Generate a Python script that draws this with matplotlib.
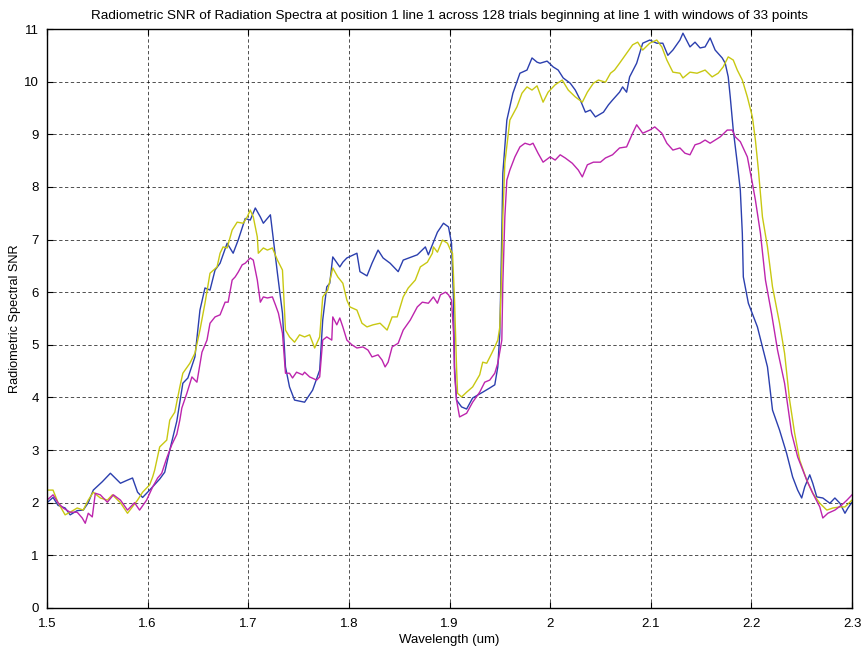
import matplotlib
matplotlib.use("Agg")
import matplotlib.pyplot as plt
import numpy as np

plt.rcParams['font.family'] = ['Liberation Sans', 'DejaVu Sans']

title = "Radiometric SNR of Radiation Spectra at position 1 line 1 across 128 trials beginning at line 1 with windows of 33 points"
xlabel = "Wavelength (um)"
ylabel = "Radiometric Spectral SNR"
xticks = [1.5, 1.6, 1.7, 1.8, 1.9, 2.0, 2.1, 2.2, 2.3]
xticklabels = ["1.5", "1.6", "1.7", "1.8", "1.9", "2", "2.1", "2.2", "2.3"]
yticks = list(range(0, 12))

blue_w = [1.500, 1.506, 1.511, 1.518, 1.523, 1.530, 1.536, 1.541, 1.546, 1.555, 1.563, 1.573, 1.580, 1.585, 1.590,
          1.595, 1.599, 1.602, 1.612, 1.617, 1.622, 1.629, 1.635, 1.640, 1.647, 1.652, 1.657, 1.662, 1.667, 1.672,
          1.679, 1.685, 1.690, 1.697, 1.702, 1.707, 1.712, 1.715, 1.722, 1.725, 1.729, 1.734, 1.737, 1.741, 1.746,
          1.756, 1.764, 1.771, 1.774, 1.778, 1.781, 1.784, 1.791, 1.794, 1.798, 1.808, 1.811, 1.818, 1.823, 1.829,
          1.834, 1.841, 1.849, 1.854, 1.868, 1.876, 1.879, 1.888, 1.894, 1.899, 1.902, 1.904, 1.905, 1.907, 1.912,
          1.917, 1.923, 1.933, 1.940, 1.945, 1.948, 1.950, 1.952, 1.953, 1.957, 1.963, 1.970, 1.977, 1.982, 1.987,
          1.990, 1.997, 2.003, 2.008, 2.013, 2.020, 2.025, 2.030, 2.035, 2.040, 2.045, 2.053, 2.058, 2.062, 2.069,
          2.072, 2.076, 2.079, 2.086, 2.092, 2.099, 2.106, 2.112, 2.117, 2.122, 2.129, 2.132, 2.139, 2.144, 2.149,
          2.154, 2.159, 2.164, 2.171, 2.174, 2.177, 2.179, 2.182, 2.186, 2.189, 2.191, 2.192, 2.197, 2.206, 2.216,
          2.221, 2.228, 2.235, 2.241, 2.246, 2.250, 2.253, 2.258, 2.261, 2.265, 2.271, 2.278, 2.283, 2.288, 2.293,
          2.296, 2.300]
blue_v = [2.00, 2.10, 1.95, 1.90, 1.77, 1.85, 1.86, 2.00, 2.24, 2.40, 2.56, 2.37, 2.43, 2.47, 2.20,
          2.10, 2.18, 2.24, 2.45, 2.58, 3.00, 3.55, 4.27, 4.37, 4.77, 5.66, 6.08, 6.04, 6.42, 6.55,
          6.93, 6.74, 6.99, 7.40, 7.37, 7.60, 7.43, 7.31, 7.47, 6.99, 6.36, 5.60, 4.58, 4.20, 3.95,
          3.91, 4.14, 4.52, 5.47, 6.10, 6.17, 6.67, 6.48, 6.57, 6.65, 6.74, 6.39, 6.31, 6.55, 6.80,
          6.65, 6.55, 6.39, 6.61, 6.71, 6.86, 6.71, 7.14, 7.31, 7.24, 6.93, 5.85, 4.58, 3.95, 3.82,
          3.78, 3.99, 4.10, 4.18, 4.24, 4.58, 5.22, 7.12, 8.26, 9.27, 9.78, 10.16, 10.22, 10.45, 10.37,
          10.35, 10.39, 10.28, 10.22, 10.07, 9.97, 9.84, 9.65, 9.42, 9.46, 9.33, 9.42, 9.56, 9.65, 9.80,
          9.90, 9.80, 10.09, 10.35, 10.73, 10.79, 10.73, 10.73, 10.50, 10.60, 10.79, 10.92, 10.66, 10.75, 10.64,
          10.66, 10.83, 10.60, 10.45, 10.35, 10.09, 9.71, 9.08, 8.45, 7.94, 7.12, 6.29, 5.79, 5.34, 4.58,
          3.76, 3.38, 2.94, 2.49, 2.24, 2.09, 2.30, 2.53, 2.37, 2.11, 2.09, 1.99, 2.09, 1.99, 1.80,
          1.90, 2.01]

yellow_w = [1.500, 1.506, 1.511, 1.518, 1.523, 1.530, 1.536, 1.541, 1.546, 1.553, 1.560, 1.565, 1.573, 1.580, 1.584,
            1.590, 1.595, 1.599, 1.602, 1.605, 1.607, 1.612, 1.619, 1.622, 1.627, 1.632, 1.635, 1.642, 1.647, 1.652,
            1.657, 1.662, 1.669, 1.672, 1.675, 1.679, 1.684, 1.689, 1.695, 1.699, 1.702, 1.705, 1.709, 1.710, 1.715,
            1.719, 1.724, 1.729, 1.734, 1.737, 1.741, 1.746, 1.751, 1.756, 1.761, 1.766, 1.771, 1.774, 1.779, 1.784,
            1.789, 1.794, 1.798, 1.801, 1.808, 1.813, 1.818, 1.824, 1.831, 1.838, 1.843, 1.848, 1.854, 1.859, 1.866,
            1.871, 1.878, 1.883, 1.884, 1.888, 1.893, 1.898, 1.901, 1.903, 1.905, 1.907, 1.908, 1.912, 1.917, 1.923,
            1.930, 1.933, 1.937, 1.942, 1.945, 1.948, 1.950, 1.952, 1.953, 1.955, 1.960, 1.967, 1.972, 1.977, 1.982,
            1.987, 1.993, 1.998, 2.005, 2.012, 2.018, 2.025, 2.032, 2.037, 2.043, 2.048, 2.055, 2.060, 2.064, 2.069,
            2.076, 2.082, 2.087, 2.092, 2.099, 2.106, 2.111, 2.116, 2.122, 2.129, 2.132, 2.139, 2.146, 2.154, 2.161,
            2.167, 2.172, 2.177, 2.182, 2.186, 2.191, 2.196, 2.201, 2.204, 2.207, 2.211, 2.216, 2.221, 2.228, 2.233,
            2.238, 2.243, 2.248, 2.255, 2.261, 2.268, 2.275, 2.281, 2.288, 2.293, 2.300]
yellow_v = [2.24, 2.24, 2.00, 1.77, 1.82, 1.90, 1.86, 2.05, 2.20, 2.09, 2.05, 2.15, 2.00, 1.80, 1.90,
            2.05, 2.20, 2.28, 2.34, 2.49, 2.62, 3.06, 3.19, 3.57, 3.72, 4.20, 4.46, 4.65, 4.84, 5.28,
            5.79, 6.36, 6.48, 6.74, 6.86, 6.84, 7.18, 7.33, 7.31, 7.43, 7.56, 7.43, 7.05, 6.74, 6.84,
            6.80, 6.84, 6.61, 6.42, 5.28, 5.15, 5.05, 5.19, 5.15, 5.19, 4.94, 5.15, 5.91, 6.04, 6.46,
            6.29, 6.17, 5.85, 5.72, 5.66, 5.41, 5.34, 5.38, 5.41, 5.28, 5.53, 5.53, 5.91, 6.08, 6.23,
            6.48, 6.57, 6.74, 6.86, 6.76, 6.99, 6.93, 6.80, 6.74, 5.85, 4.58, 4.08, 4.01, 4.10, 4.20,
            4.43, 4.67, 4.65, 4.84, 4.96, 5.09, 5.34, 6.48, 7.43, 8.45, 9.27, 9.52, 9.78, 9.90, 9.84,
            9.92, 9.61, 9.80, 9.94, 10.03, 9.84, 9.71, 9.61, 9.80, 9.97, 10.03, 9.99, 10.16, 10.22, 10.35,
            10.54, 10.70, 10.75, 10.60, 10.73, 10.79, 10.66, 10.41, 10.18, 10.16, 10.07, 10.18, 10.16, 10.22, 10.09,
            10.16, 10.28, 10.47, 10.41, 10.22, 10.03, 9.71, 9.33, 8.89, 8.32, 7.43, 6.86, 6.10, 5.41, 4.84,
            3.95, 3.32, 2.81, 2.43, 2.18, 1.99, 1.86, 1.90, 1.92, 1.92, 2.05]

magenta_w = [1.500, 1.506, 1.511, 1.516, 1.523, 1.530, 1.535, 1.538, 1.541, 1.545, 1.548, 1.553, 1.560, 1.566, 1.573,
             1.580, 1.587, 1.592, 1.599, 1.605, 1.610, 1.614, 1.619, 1.624, 1.629, 1.632, 1.634, 1.639, 1.644, 1.649,
             1.654, 1.659, 1.662, 1.667, 1.672, 1.677, 1.680, 1.684, 1.687, 1.690, 1.694, 1.697, 1.702, 1.705, 1.709,
             1.712, 1.715, 1.719, 1.724, 1.727, 1.730, 1.734, 1.737, 1.741, 1.744, 1.748, 1.754, 1.756, 1.761, 1.768,
             1.771, 1.774, 1.778, 1.783, 1.784, 1.788, 1.791, 1.794, 1.798, 1.803, 1.808, 1.814, 1.819, 1.823, 1.829,
             1.833, 1.836, 1.839, 1.843, 1.849, 1.854, 1.861, 1.868, 1.873, 1.879, 1.884, 1.888, 1.891, 1.896, 1.899,
             1.902, 1.904, 1.905, 1.907, 1.910, 1.917, 1.923, 1.930, 1.935, 1.940, 1.945, 1.948, 1.952, 1.953, 1.955,
             1.957, 1.960, 1.965, 1.970, 1.975, 1.980, 1.983, 1.988, 1.993, 2.000, 2.005, 2.010, 2.015, 2.022, 2.028,
             2.032, 2.037, 2.043, 2.050, 2.055, 2.062, 2.069, 2.076, 2.082, 2.086, 2.092, 2.099, 2.104, 2.111, 2.116,
             2.122, 2.129, 2.134, 2.139, 2.144, 2.149, 2.154, 2.159, 2.164, 2.169, 2.176, 2.181, 2.184, 2.189, 2.196,
             2.201, 2.204, 2.209, 2.214, 2.220, 2.226, 2.233, 2.240, 2.246, 2.255, 2.261, 2.268, 2.271, 2.276, 2.283,
             2.290, 2.295, 2.300]
magenta_v = [2.05, 2.15, 2.00, 1.90, 1.82, 1.82, 1.71, 1.61, 1.80, 1.73, 2.18, 2.15, 2.01, 2.15, 2.05,
             1.86, 2.00, 1.86, 2.05, 2.30, 2.47, 2.56, 2.85, 3.10, 3.30, 3.57, 3.80, 4.08, 4.39, 4.29,
             4.86, 5.09, 5.41, 5.53, 5.57, 5.81, 5.81, 6.23, 6.29, 6.38, 6.52, 6.55, 6.65, 6.61, 6.23,
             5.81, 5.91, 5.89, 5.91, 5.76, 5.60, 5.22, 4.46, 4.46, 4.37, 4.48, 4.43, 4.48, 4.39, 4.33,
             4.39, 5.09, 5.15, 5.09, 5.53, 5.38, 5.51, 5.34, 5.09, 5.00, 4.94, 4.96, 4.90, 4.77, 4.81,
             4.71, 4.58, 4.67, 4.96, 5.03, 5.28, 5.47, 5.72, 5.81, 5.79, 5.91, 5.79, 5.95, 6.00, 5.95,
             5.85, 5.22, 4.46, 3.95, 3.63, 3.70, 3.91, 4.10, 4.29, 4.33, 4.46, 4.65, 5.09, 6.17, 7.43,
             8.13, 8.32, 8.57, 8.76, 8.83, 8.80, 8.83, 8.64, 8.47, 8.57, 8.51, 8.61, 8.55, 8.45, 8.32,
             8.19, 8.42, 8.47, 8.47, 8.55, 8.61, 8.74, 8.76, 9.02, 9.18, 9.02, 9.08, 9.14, 9.02, 8.83,
             8.70, 8.74, 8.64, 8.61, 8.80, 8.83, 8.89, 8.83, 8.89, 8.95, 9.08, 9.08, 8.95, 8.86, 8.57,
             8.07, 7.75, 7.12, 6.23, 5.60, 4.90, 4.27, 3.32, 2.87, 2.43, 2.18, 1.92, 1.71, 1.80, 1.86,
             1.96, 2.05, 2.15]

fig = plt.figure(figsize=(8.66, 6.5), dpi=100)
ax = fig.add_axes([47/866, 1-608/650, (852-47)/866, (608-29)/650])

ax.plot(blue_w, blue_v, color='#2b3fae', lw=1.0)
ax.plot(yellow_w, yellow_v, color='#c8c812', lw=1.0)
ax.plot(magenta_w, magenta_v, color='#bd25ad', lw=1.0)

ax.set_xlim(1.5, 2.3)
ax.set_ylim(0, 11)
ax.set_xticks(xticks)
ax.set_xticklabels(xticklabels)
ax.set_yticks(yticks)
ax.grid(True, color='black', linestyle=(0, (4, 3)), linewidth=0.6, alpha=0.8)
ax.tick_params(direction='in', top=True, right=True, labelsize=9.5, length=4)
ax.tick_params(axis='x', pad=7)
ax.tick_params(axis='y', pad=6)
for s in ax.spines.values():
    s.set_linewidth(1.0)

ax.set_title(title, fontsize=9.7, pad=7)
ax.set_xlabel(xlabel, fontsize=9.5, labelpad=3)
ax.set_ylabel(ylabel, fontsize=9.2, labelpad=2)

fig.savefig("out.png", dpi=100)
